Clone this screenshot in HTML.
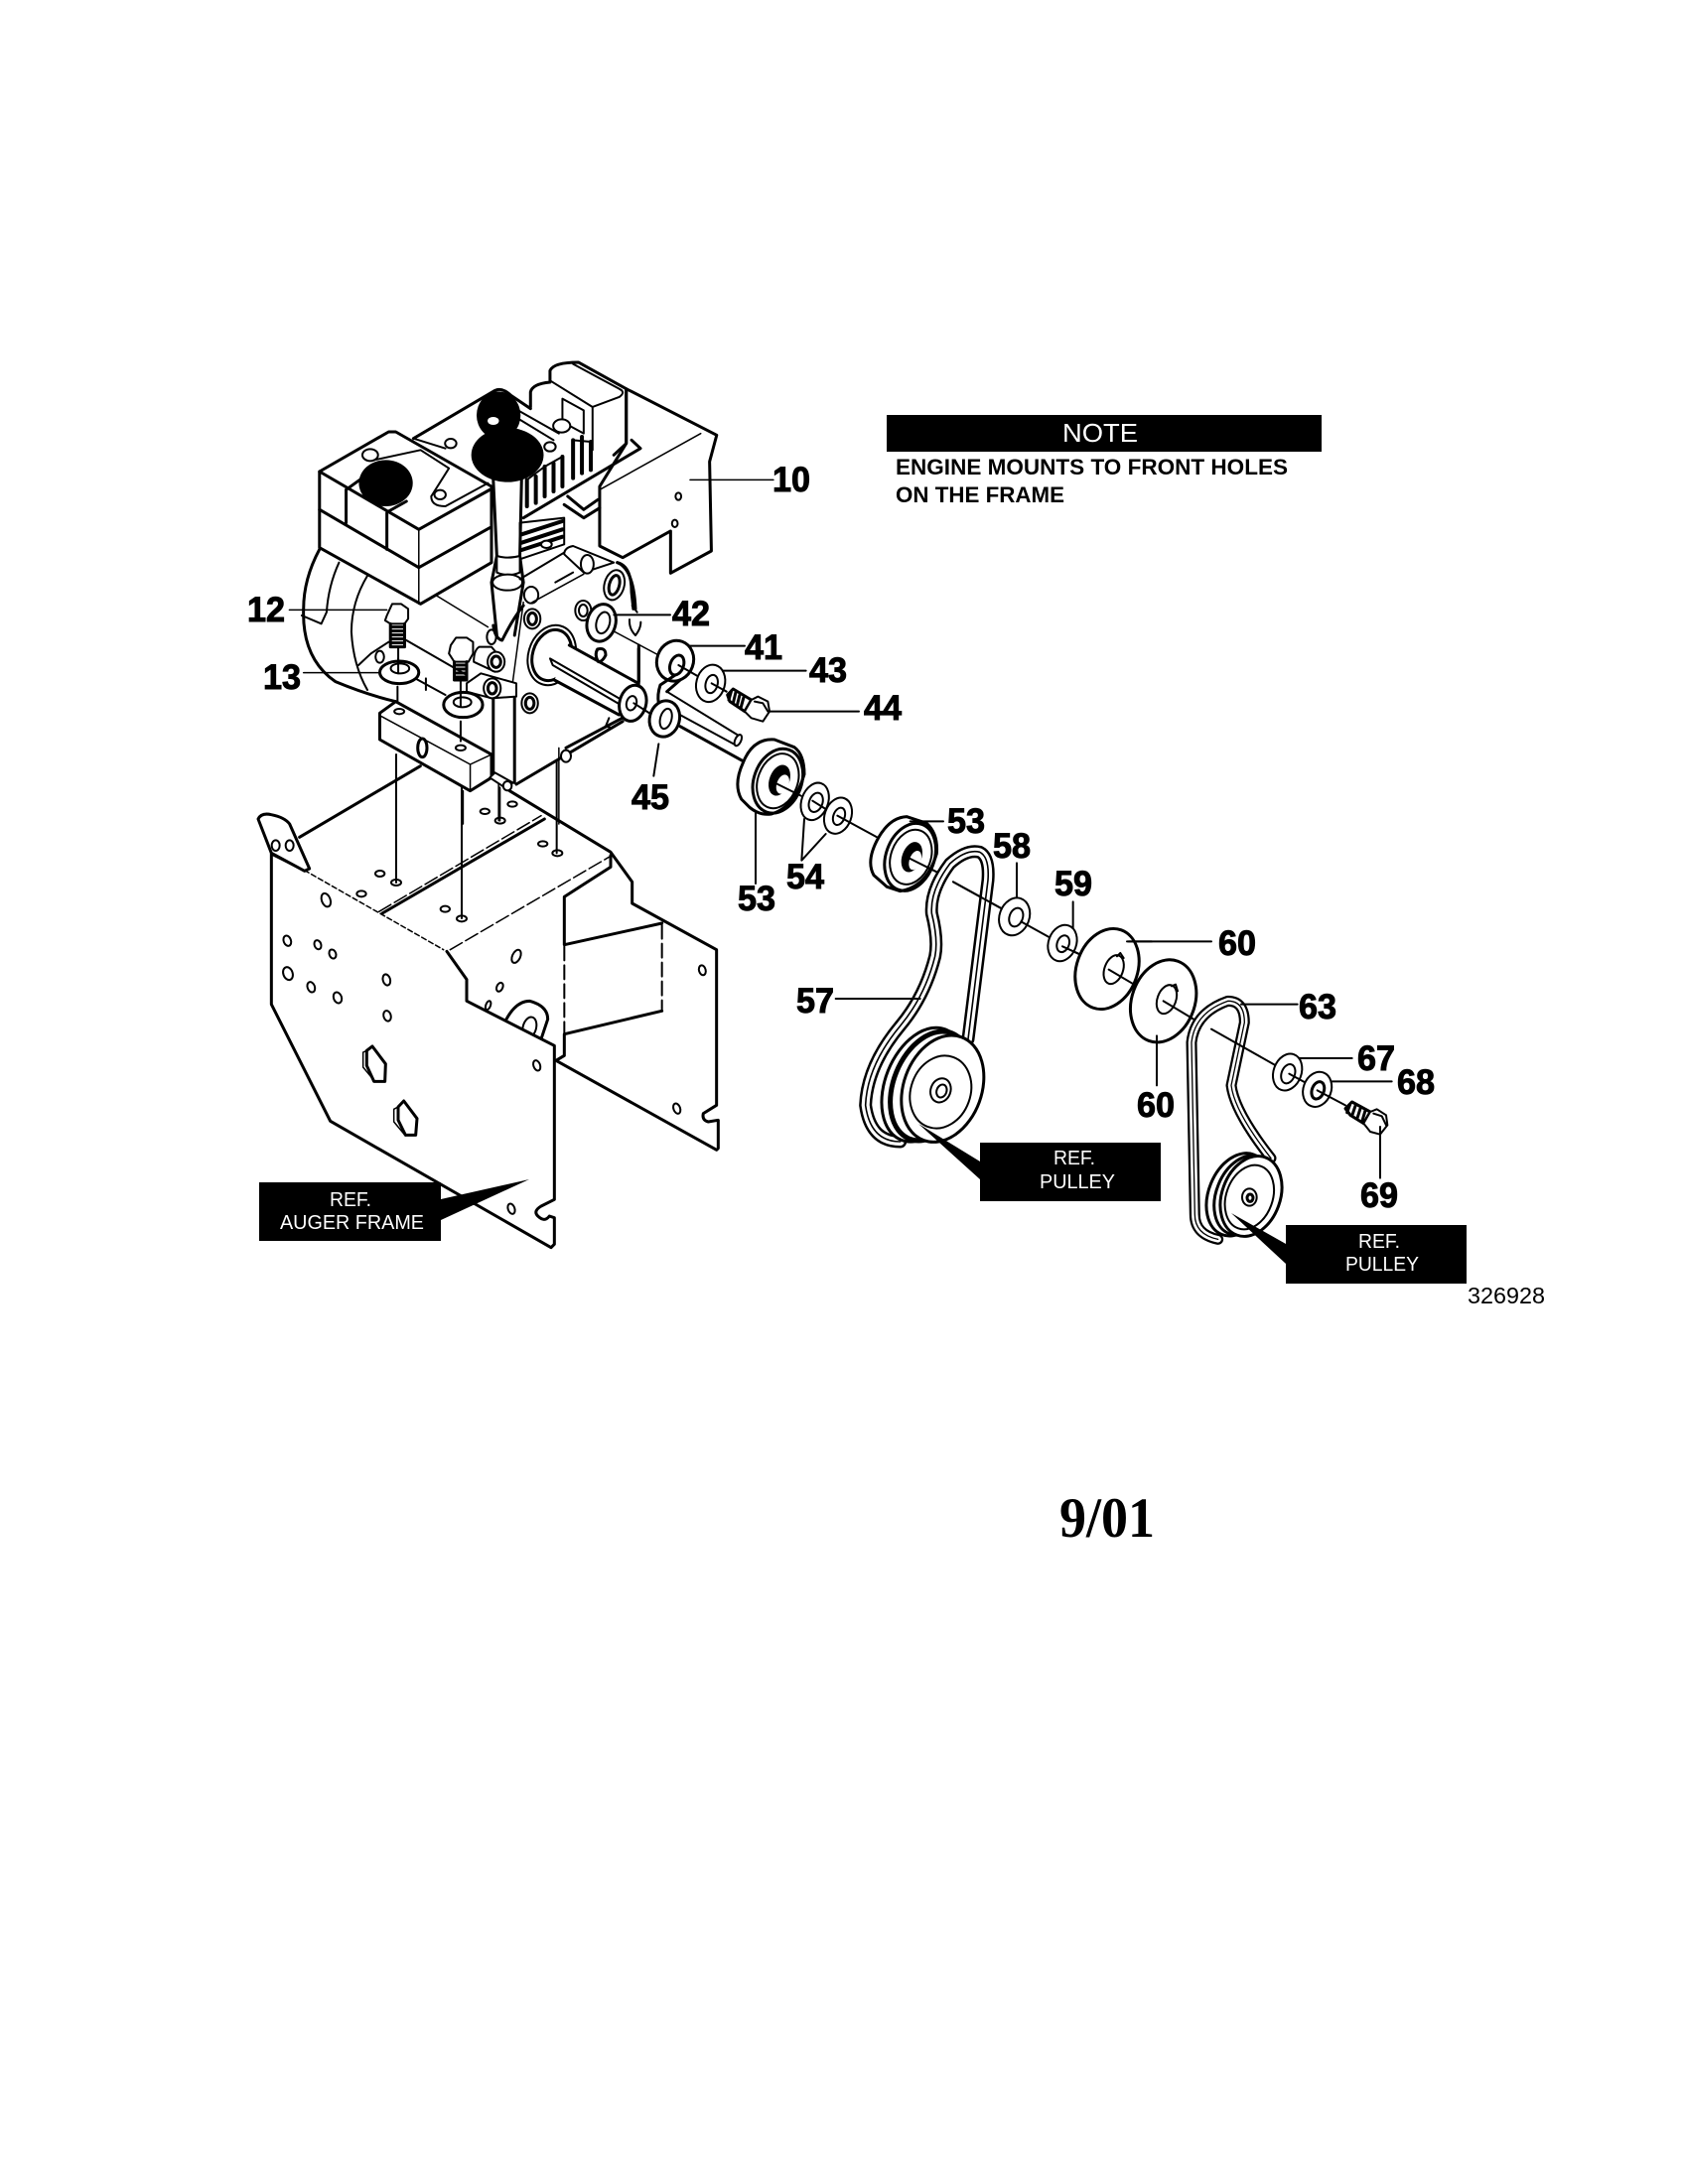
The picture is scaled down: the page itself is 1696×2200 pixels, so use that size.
<!DOCTYPE html>
<html><head><meta charset="utf-8"><style>
html,body{margin:0;padding:0;background:#fff}
svg{display:block}
svg *{vector-effect:non-scaling-stroke}
g.d{fill:none;stroke:#000;stroke-width:1.5;stroke-linejoin:round;stroke-linecap:round}
.h{stroke-width:3}.m{stroke-width:2}.f{stroke-width:4}.w{fill:#fff}.b{fill:#000}
.n{font:bold 35px "Liberation Sans",sans-serif;fill:#000;stroke:#000;stroke-width:1}
.r{font:20px "Liberation Sans",sans-serif;fill:#fff}
.e{font:bold 22px "Liberation Sans",sans-serif;fill:#000}
</style></head><body>
<svg width="1696" height="2200" viewBox="0 0 1696 2200" xmlns="http://www.w3.org/2000/svg">
<rect width="1696" height="2200" fill="#fff"/>

<!-- auger frame -->
<g class="d" transform="translate(220,760) scale(.33333)">
<path class="h" d="M245 250L610 35M880 110L1185 295L1250 385V450L1505 590V1060L1465 1085Q1460 1105 1480 1110L1510 1105V1190L1505 1195L1020 925L1045 910V845L1340 775M1340 510L1045 575V430L1185 340V305"/>
<path class="w h" d="M160 300V755L338 1108L1005 1490L1015 1480V1400L1000 1395Q985 1415 965 1395Q950 1380 975 1365L1015 1345V880L750 745V680L690 595L260 350Z" style="stroke:none"/>
<path class="h" d="M870 800Q900 745 940 745Q995 760 995 800L975 860"/>
<ellipse class="m" cx="940" cy="825" rx="20" ry="32" transform="rotate(15 940 825)"/>
<path class="w" d="M750 745L1015 880V1000H750Z" style="stroke:none"/>
<path class="h" d="M260 350L160 300V755L338 1108L1005 1490L1015 1480V1400L1000 1395Q985 1415 965 1395Q950 1380 975 1365L1015 1345V880L750 745V680L690 595"/>
<path d="M260 350L680 590" stroke-dasharray="5 3"/>
<path class="m" d="M1045 580V845M1340 515V770" stroke-dasharray="14 5"/>
<path class="h" d="M495 480L985 195"/>
<path d="M485 475L975 185M700 590L1180 310" stroke-dasharray="14 4"/>
<path class="h w" d="M160 298L120 195Q130 175 160 182Q200 190 215 210L275 345L260 352Z"/>
<ellipse class="m" cx="173" cy="275" rx="12" ry="16"/>
<ellipse class="m" cx="215" cy="275" rx="12" ry="16"/>
<path class="m" d="M537 0V387M735 100V495M850 100V200M1022 20V298"/>
<g class="m">
<ellipse cx="537" cy="387" rx="15" ry="9"/><ellipse cx="735" cy="496" rx="15" ry="9"/><ellipse cx="851" cy="200" rx="15" ry="9"/><ellipse cx="1024" cy="298" rx="15" ry="9"/>
<ellipse cx="488" cy="360" rx="14" ry="9"/><ellipse cx="432" cy="421" rx="14" ry="9"/><ellipse cx="685" cy="467" rx="14" ry="9"/><ellipse cx="805" cy="172" rx="14" ry="8"/><ellipse cx="888" cy="150" rx="14" ry="8"/><ellipse cx="980" cy="270" rx="14" ry="8"/>
<ellipse cx="325" cy="440" rx="13" ry="21" transform="rotate(-20 325 440)"/><ellipse cx="208" cy="563" rx="11" ry="16" transform="rotate(-20 208 563)"/><ellipse cx="300" cy="575" rx="10" ry="14" transform="rotate(-20 300 575)"/><ellipse cx="345" cy="603" rx="10" ry="14" transform="rotate(-20 345 603)"/><ellipse cx="210" cy="662" rx="14" ry="20" transform="rotate(-20 210 662)"/><ellipse cx="280" cy="703" rx="11" ry="16" transform="rotate(-20 280 703)"/><ellipse cx="360" cy="735" rx="12" ry="17" transform="rotate(-20 360 735)"/><ellipse cx="508" cy="681" rx="11" ry="17" transform="rotate(-15 508 681)"/><ellipse cx="510" cy="790" rx="11" ry="16" transform="rotate(-15 510 790)"/>
<ellipse cx="900" cy="610" rx="12" ry="21" transform="rotate(25 900 610)"/><ellipse cx="850" cy="703" rx="9" ry="14" transform="rotate(25 850 703)"/><ellipse cx="815" cy="758" rx="7" ry="14" transform="rotate(20 815 758)"/><ellipse cx="1462" cy="652" rx="10" ry="15" transform="rotate(-15 1462 652)"/><ellipse cx="962" cy="940" rx="10" ry="16" transform="rotate(-20 962 940)"/><ellipse cx="885" cy="1373" rx="10" ry="16" transform="rotate(-20 885 1373)"/><ellipse cx="1385" cy="1070" rx="10" ry="16" transform="rotate(-20 1385 1070)"/>
</g>
<path class="h" d="M448 895L465 882L505 935L503 988L470 988L448 940Z"/><path d="M448 895L437 900V945L470 985"/>
<path class="h" d="M543 1065L560 1047L600 1100L596 1150L565 1150L543 1105Z"/><path d="M543 1065L530 1072V1110L565 1152"/>
</g>

<!-- engine -->
<g class="d" transform="translate(220,330) scale(.35714,.33333)">
<path class="h w" d="M1150 185L1405 325L1385 405L1390 675L1275 742V615L1140 695L1075 660V480L1150 350Z"/>
<path d="M1360 320L1075 490M1330 460H1565"/>
<ellipse class="m" cx="1297" cy="510" rx="8" ry="11"/><ellipse class="m" cx="1287" cy="592" rx="8" ry="11"/>
<path class="h" d="M880 240V195Q885 170 935 165V130Q945 105 1015 105L1150 185V350L1115 385M550 335L780 190Q800 180 825 205L880 245"/>
<path class="m" d="M1000 110L1130 185Q1150 195 1130 210L1055 240V370M935 160L1055 240"/>
<path class="m" d="M970 215L1030 250V320L970 285Z"/>
<ellipse class="w m" cx="968" cy="297" rx="24" ry="20"/>
<path class="h" d="M1165 340L1190 365L860 575"/>
<path class="f" d="M870 460V540M895 450V530M920 420V510M945 410V495M970 390V480M1000 340V455M1025 330V440M1050 345V430"/>
<path class="m" d="M870 460L920 420M920 420L970 390M1000 340L1050 345M845 250L960 320M845 275L945 340"/>
<path class="m w" d="M850 590L975 575V655L850 700Z"/>
<path class="f" d="M855 625L970 585M855 650L970 610M855 672L970 632"/>
<ellipse class="w m" cx="925" cy="655" rx="15" ry="11"/>
<path class="h" d="M975 535L1030 575L1075 545M985 510L1030 550L1070 520"/>
<path class="m w" d="M975 685L1030 740L1115 710L1000 660Q975 665 975 685Z"/>
<ellipse class="m w" cx="1040" cy="715" rx="18" ry="28"/>
<path class="w h" d="M285 435L480 315H500L770 480V710L570 835L285 665Z"/>
<path class="h" d="M285 435L565 610L765 490M285 550L565 725L765 605"/><path d="M565 610V835M575 605L770 490M575 720L770 600"/>
<path class="h" d="M360 490V590M475 560V670M360 490L405 455M480 555L530 525"/>
<path class="m" d="M440 400L570 370L650 425L600 510Q600 540 640 540L760 470M550 335L640 365"/>
<ellipse class="w m" cx="428" cy="385" rx="22" ry="18"/><ellipse class="w m" cx="625" cy="505" rx="16" ry="14"/><ellipse class="w m" cx="655" cy="350" rx="16" ry="14"/>
<ellipse class="b" cx="472" cy="470" rx="76" ry="70" style="stroke:none"/>
<ellipse class="b" cx="790" cy="265" rx="62" ry="72" style="stroke:none"/><ellipse class="b" cx="815" cy="385" rx="102" ry="82" style="stroke:none"/>
<ellipse cx="775" cy="282" rx="16" ry="12" fill="#fff" style="stroke:none"/>
<ellipse class="w m" cx="935" cy="360" rx="16" ry="14"/>
<path class="w h" d="M775 460L785 690L770 770L785 930M855 450L850 690L860 770L835 930" style="fill:#fff"/>
<path class="w m" d="M785 690Q815 700 850 690V740Q815 755 785 740Z"/>
<ellipse class="w m" cx="815" cy="770" rx="42" ry="24"/>
<path class="m" d="M850 760L975 680M950 770L1000 740"/>
<ellipse class="w m" cx="882" cy="808" rx="20" ry="25"/>
<path d="M885 830L1030 745M615 810L760 905M530 945L700 1050"/>
<path class="h" d="M860 840Q830 880 800 945Q780 940 775 900M1125 710Q1165 720 1165 800L1170 850M1185 970V1085M775 1110V1350M835 1120V1375"/>
<path d="M860 830L830 1070"/>
<path class="h" d="M285 670Q240 760 240 850Q235 1000 330 1070Q420 1110 500 1130"/>
<path class="m" d="M340 710Q310 780 305 860M420 750Q375 830 375 920Q380 1020 420 1095M235 870L290 895L305 860"/>
<path class="m" d="M395 1020L430 985L480 950M555 1060L640 1110M585 1060V1095M530 945L700 1050"/>
<ellipse class="m" cx="455" cy="995" rx="12" ry="18"/>
<!-- base block -->
<path class="w h" d="M455 1165L500 1130L770 1290L770 1360L710 1400L455 1245Z"/>
<path d="M460 1175L710 1320L770 1290M710 1320V1400"/>
<ellipse class="h" cx="575" cy="1270" rx="13" ry="28"/>
<ellipse class="m" cx="510" cy="1160" rx="14" ry="8"/><ellipse class="m" cx="683" cy="1270" rx="14" ry="8"/>
<path class="h" d="M840 1380L1140 1190"/>
<path d="M960 1270V1500M690 1400V1500M790 1375V1490"/>
<ellipse class="m w" cx="980" cy="1295" rx="14" ry="18"/>
<path class="w m" d="M765 1360L780 1345L830 1375L815 1395Z"/><ellipse class="m w" cx="815" cy="1385" rx="12" ry="14"/>
<!-- gear casting bosses -->
<ellipse class="m" cx="885" cy="880" rx="23" ry="30"/><ellipse class="h" cx="885" cy="880" rx="12" ry="18"/>
<ellipse class="m" cx="878" cy="1135" rx="23" ry="30"/><ellipse class="h" cx="878" cy="1135" rx="12" ry="18"/>
<ellipse class="m" cx="940" cy="990" rx="66" ry="92" transform="rotate(15 940 990)"/><ellipse class="h" cx="940" cy="990" rx="54" ry="78" transform="rotate(15 940 990)"/>
<!-- couplers -->
<ellipse class="m" cx="770" cy="935" rx="13" ry="22"/>
<path class="w m" d="M735 965Q720 975 720 1010L780 1040L805 1010L770 965Z"/><ellipse class="m w" cx="783" cy="1010" rx="24" ry="30"/><ellipse class="h" cx="783" cy="1010" rx="13" ry="17"/>
<path class="w m" d="M740 1045L700 1075V1100L770 1120L840 1115V1075Z"/><ellipse class="m w" cx="772" cy="1090" rx="24" ry="30"/><ellipse class="h" cx="772" cy="1090" rx="12" ry="17"/>
<!-- bolts & washers -->
<path d="M200 853H475"/>
<path class="m w" d="M475 870L470 885L485 895H525L535 880V850L515 835H490Z"/>
<path class="h" d="M485 895V965H525V895M485 905H525M485 917H525M485 929H525M485 941H525M485 953H525"/>
<path class="m" d="M507 968V1045M505 1085V1130"/>
<path d="M240 1043H465"/>
<ellipse class="w h" cx="510" cy="1042" rx="55" ry="34"/><ellipse class="m" cx="512" cy="1030" rx="26" ry="15"/><path class="m" d="M507 1000V1045"/>
<path class="m w" d="M655 960L650 985L665 1010H705L718 985V950L700 937H670Z"/>
<path class="h" d="M665 1010V1065H700V1010M665 1020H700M665 1032H700M665 1044H700M665 1056H700"/>
<ellipse class="w h" cx="690" cy="1140" rx="55" ry="38"/><ellipse class="m" cx="688" cy="1132" rx="25" ry="15"/><path class="m" d="M683 1068V1145M683 1190V1250"/>
</g>

<!-- shafts, washers 41-45 -->
<g class="d" transform="translate(560,520) scale(.33333)">
<path class="w" d="M40 390L245 503L190 600L-5 495Z" style="stroke:none"/>
<path class="h" d="M250 390V500M40 390L245 503M-5 495L190 600"/>
<path class="m" d="M-18 430L207 560L195 570L-10 450Z"/>
<path class="h" d="M185 140Q235 160 240 280"/>
<ellipse class="m w" cx="176" cy="208" rx="30" ry="46" transform="rotate(15 176 208)"/><ellipse class="h" cx="176" cy="208" rx="15" ry="30" transform="rotate(15 176 208)"/>
<path class="m" d="M222 312Q220 340 240 360Q256 340 256 320M230 270L245 290"/>
<path class="h" d="M125 402Q150 395 150 420Q140 440 128 440Q115 420 125 402Z"/>
<ellipse class="m" cx="82" cy="285" rx="24" ry="30"/><ellipse class="m" cx="82" cy="285" rx="13" ry="18"/>
<path d="M160 340L310 420"/>
<ellipse class="w h" cx="137" cy="322" rx="43" ry="57" transform="rotate(15 137 322)"/><ellipse class="m" cx="142" cy="322" rx="20" ry="33" transform="rotate(15 142 322)"/>
<path class="m" d="M175 298H345M405 392H570M500 467H755M640 590H915M310 688L295 785"/>
<path class="m w" d="M375 495L335 530L555 665L540 690L310 565Q305 535 315 510L360 480" style="fill:none"/>
<ellipse class="m w" cx="550" cy="677" rx="9" ry="18" transform="rotate(25 550 677)"/>
<path class="h w" d="M375 635L565 740" style="fill:none"/>
<ellipse class="w h" cx="360" cy="437" rx="55" ry="62" transform="rotate(20 360 437)"/><ellipse class="h" cx="365" cy="450" rx="20" ry="31" transform="rotate(20 365 450)"/>
<path class="h" d="M360 480L315 510Q305 540 310 565M375 495L335 530"/>
<path class="m" d="M370 450L440 490M470 505L515 530"/>
<ellipse class="w m" cx="467" cy="505" rx="43" ry="57" transform="rotate(15 467 505)"/><ellipse class="m" cx="470" cy="507" rx="18" ry="28" transform="rotate(15 470 507)"/><path class="m" d="M470 505L515 530"/>
<path class="h" d="M518 540L535 522L590 555L570 590L525 560ZM530 527L522 555M543 532L535 565M555 540L547 572M567 547L558 580"/>
<path class="m w" d="M590 555L610 545L640 560L645 590L625 620L590 610L570 590Z"/><path class="m" d="M600 560L625 565L640 590"/>
<ellipse class="w h" cx="232" cy="565" rx="40" ry="55" transform="rotate(15 232 565)"/><ellipse class="m" cx="228" cy="565" rx="15" ry="22" transform="rotate(15 228 565)"/>
<path class="m" d="M235 565L290 600M160 610L150 635L170 640"/>
<path class="h" d="M30 700L200 610"/>
<ellipse class="w h" cx="328" cy="612" rx="45" ry="55" transform="rotate(15 328 612)"/><ellipse class="m" cx="332" cy="612" rx="17" ry="31" transform="rotate(15 332 612)"/>
</g>

<!-- pulleys / belt 57 -->
<g class="d" transform="translate(700,700) scale(.33333)">
<path class="h w" d="M145 205Q175 130 240 135L300 158Q330 180 330 240Q300 340 230 360Q195 365 165 340L140 315Q115 270 145 205Z"/>
<ellipse class="h" cx="250" cy="260" rx="72" ry="100" transform="rotate(20 250 260)"/><ellipse class="m" cx="250" cy="260" rx="60" ry="85" transform="rotate(20 250 260)"/>
<ellipse class="b" cx="255" cy="258" rx="28" ry="46" transform="rotate(20 255 258)"/><ellipse cx="265" cy="270" rx="18" ry="30" fill="#fff" stroke="none" transform="rotate(20 265 270)"/>
<path class="m" d="M183 355V570M240 265L320 305"/>
<ellipse class="w m" cx="362" cy="322" rx="40" ry="58" transform="rotate(20 362 322)"/><ellipse class="m" cx="365" cy="325" rx="20" ry="30" transform="rotate(20 365 325)"/>
<path class="m" d="M355 320L395 345"/>
<ellipse class="w m" cx="432" cy="365" rx="40" ry="56" transform="rotate(20 432 365)"/><ellipse class="m" cx="435" cy="367" rx="17" ry="27" transform="rotate(20 435 367)"/>
<path class="m" d="M430 365L550 430M330 375L322 500L395 420"/>
<path class="h w" d="M555 430Q590 370 640 368L700 388Q735 420 730 480Q700 580 620 593L580 580L540 545Q515 500 555 430Z"/>
<ellipse class="h" cx="650" cy="490" rx="73" ry="105" transform="rotate(20 650 490)"/><ellipse class="m" cx="652" cy="490" rx="60" ry="85" transform="rotate(20 652 490)"/>
<ellipse class="b" cx="655" cy="490" rx="27" ry="45" transform="rotate(20 655 490)"/><ellipse cx="665" cy="500" rx="17" ry="30" fill="#fff" stroke="none" transform="rotate(20 665 500)"/>
<path class="m" d="M650 382H750M650 495L730 535M780 565L925 645"/>
<path d="M620 1350Q530 1350 515 1240Q520 1120 620 1000Q695 910 725 790Q735 740 715 660Q710 590 770 510Q820 465 860 475Q890 490 885 560L825 1040" stroke="#000" stroke-width="13" fill="none"/>
<path d="M620 1350Q530 1350 515 1240Q520 1120 620 1000Q695 910 725 790Q735 740 715 660Q710 590 770 510Q820 465 860 475Q890 490 885 560L825 1040" stroke="#fff" stroke-width="8" fill="none"/>
<path d="M620 1350Q530 1350 515 1240Q520 1120 620 1000Q695 910 725 790Q735 740 715 660Q710 590 770 510Q820 465 860 475Q890 490 885 560L825 1040" stroke="#000" stroke-width="1.6" fill="none"/>
<path class="m" d="M780 565L925 645M425 918H680"/>
<ellipse class="w h" cx="690" cy="1178" rx="115" ry="180" transform="rotate(22 690 1178)"/>
<ellipse class="h" cx="712" cy="1182" rx="112" ry="172" transform="rotate(22 712 1182)" style="stroke-width:5"/>
<ellipse class="w h" cx="748" cy="1190" rx="118" ry="166" transform="rotate(20 748 1190)"/>
<ellipse class="m" cx="742" cy="1200" rx="90" ry="112" transform="rotate(20 742 1200)"/>
<ellipse class="m" cx="742" cy="1195" rx="30" ry="37" transform="rotate(20 742 1195)"/><ellipse class="m" cx="745" cy="1197" rx="15" ry="20" transform="rotate(20 745 1197)"/>
<ellipse class="w m" cx="965" cy="670" rx="45" ry="58" transform="rotate(20 965 670)"/><ellipse class="m" cx="970" cy="672" rx="20" ry="29" transform="rotate(20 970 672)"/>
<path class="m" d="M972 508V610M985 685L1075 735M1142 625V730M1110 760L1165 785"/>
<ellipse class="w m" cx="1110" cy="750" rx="42" ry="56" transform="rotate(20 1110 750)"/><ellipse class="m" cx="1112" cy="752" rx="18" ry="26" transform="rotate(20 1112 752)"/>
<path class="m" d="M1110 760L1165 785"/>
<ellipse class="w h" cx="1245" cy="828" rx="92" ry="125" transform="rotate(20 1245 828)"/>
<ellipse class="m" cx="1265" cy="830" rx="28" ry="45" transform="rotate(20 1265 830)"/>
<path class="m" d="M1305 745H1380M1250 830L1335 880M1275 790L1285 780L1295 795"/>
</g>

<!-- disc 60, belt 63 -->
<g class="d" transform="translate(1040,880) scale(.33333)">
<path class="m" d="M290 205H540"/>
<ellipse class="w h" cx="395" cy="385" rx="95" ry="128" transform="rotate(20 395 385)"/>
<ellipse class="m" cx="405" cy="380" rx="28" ry="45" transform="rotate(20 405 380)"/>
<path class="m" d="M395 385L495 445M375 490V640M420 340L432 335L438 355"/>
<path d="M560 1105Q490 1090 490 1030L480 510Q490 420 590 385Q640 385 640 450L600 640Q610 720 720 860" stroke="#000" stroke-width="11" fill="none"/>
<path d="M560 1105Q490 1090 490 1030L480 510Q490 420 590 385Q640 385 640 450L600 640Q610 720 720 860" stroke="#fff" stroke-width="6.5" fill="none"/>
<path d="M560 1105Q490 1090 490 1030L480 510Q490 420 590 385Q640 385 640 450L600 640Q610 720 720 860" stroke="#000" stroke-width="1.3" fill="none"/>
<path class="m" d="M630 395H800M540 470L735 580M795 558H965M905 628H1085"/>
<ellipse class="w h" cx="620" cy="970" rx="88" ry="130" transform="rotate(22 620 970)"/>
<ellipse class="h" cx="640" cy="972" rx="85" ry="125" transform="rotate(22 640 972)"/>
<ellipse class="w h" cx="660" cy="975" rx="88" ry="125" transform="rotate(20 660 975)"/>
<ellipse class="m" cx="655" cy="978" rx="70" ry="100" transform="rotate(20 655 978)"/>
<ellipse class="m" cx="655" cy="978" rx="22" ry="26"/><ellipse class="h" cx="657" cy="980" rx="9" ry="11"/>
<ellipse class="w m" cx="770" cy="600" rx="42" ry="57" transform="rotate(20 770 600)"/><ellipse class="m" cx="772" cy="605" rx="20" ry="30" transform="rotate(20 772 605)"/>
<path class="m" d="M775 605L830 635"/>
<ellipse class="w m" cx="860" cy="652" rx="42" ry="54" transform="rotate(20 860 652)"/><ellipse class="h" cx="862" cy="655" rx="18" ry="27" transform="rotate(20 862 655)"/>
<path class="m" d="M860 655L945 700"/>
<path class="h" d="M945 710L965 690L1020 720L1000 755L960 730ZM960 695L950 722M975 702L965 732M990 710L980 742M1005 716L995 750"/>
<path class="m w" d="M1020 720L1040 712L1068 730L1072 760L1050 788L1020 780L1000 755Z"/><path class="m" d="M1030 725L1055 733L1068 760M1050 765V920"/>
</g>

<!-- REF boxes -->
<rect x="893" y="418" width="438" height="37" fill="#000"/>
<polygon points="261,1191 444,1191 444,1250 261,1250" fill="#000"/>
<polygon points="444,1208 533,1188 444,1229" fill="#000"/>
<rect x="987" y="1151" width="182" height="59" fill="#000"/>
<polygon points="987,1170 925,1132 987,1188" fill="#000"/>
<rect x="1295" y="1234" width="182" height="59" fill="#000"/>
<polygon points="1295,1253 1240,1222 1295,1273" fill="#000"/>

<text x="1070" y="445" font-family="Liberation Sans" font-size="26" fill="#fff" textLength="76" lengthAdjust="spacingAndGlyphs">NOTE</text>
<text class="e" x="902" y="478" textLength="395" lengthAdjust="spacingAndGlyphs">ENGINE MOUNTS TO FRONT HOLES</text>
<text class="e" x="902" y="506" textLength="170" lengthAdjust="spacingAndGlyphs">ON THE FRAME</text>
<text class="r" x="332" y="1215" textLength="42" lengthAdjust="spacingAndGlyphs">REF.</text>
<text class="r" x="282" y="1238" textLength="145" lengthAdjust="spacingAndGlyphs">AUGER FRAME</text>
<text class="r" x="1061" y="1173" textLength="42" lengthAdjust="spacingAndGlyphs">REF.</text>
<text class="r" x="1047" y="1197" textLength="76" lengthAdjust="spacingAndGlyphs">PULLEY</text>
<text class="r" x="1368" y="1257" textLength="42" lengthAdjust="spacingAndGlyphs">REF.</text>
<text class="r" x="1355" y="1280" textLength="74" lengthAdjust="spacingAndGlyphs">PULLEY</text>
<text x="1478" y="1313" font-family="Liberation Sans" font-size="23" fill="#000" textLength="78" lengthAdjust="spacingAndGlyphs">326928</text>
<text x="1067" y="1548" font-family="Liberation Serif" font-weight="bold" font-size="57" fill="#000" textLength="96" lengthAdjust="spacingAndGlyphs">9/01</text>

<g>
<text class="n" x="778" y="495" textLength="38" lengthAdjust="spacingAndGlyphs">10</text>
<text class="n" x="249" y="626" textLength="38" lengthAdjust="spacingAndGlyphs">12</text>
<text class="n" x="265" y="694" textLength="38" lengthAdjust="spacingAndGlyphs">13</text>
<text class="n" x="677" y="630" textLength="38" lengthAdjust="spacingAndGlyphs">42</text>
<text class="n" x="750" y="664" textLength="38" lengthAdjust="spacingAndGlyphs">41</text>
<text class="n" x="815" y="687" textLength="38" lengthAdjust="spacingAndGlyphs">43</text>
<text class="n" x="870" y="725" textLength="38" lengthAdjust="spacingAndGlyphs">44</text>
<text class="n" x="636" y="815" textLength="38" lengthAdjust="spacingAndGlyphs">45</text>
<text class="n" x="743" y="917" textLength="38" lengthAdjust="spacingAndGlyphs">53</text>
<text class="n" x="792" y="895" textLength="38" lengthAdjust="spacingAndGlyphs">54</text>
<text class="n" x="954" y="839" textLength="38" lengthAdjust="spacingAndGlyphs">53</text>
<text class="n" x="1000" y="864" textLength="38" lengthAdjust="spacingAndGlyphs">58</text>
<text class="n" x="1062" y="902" textLength="38" lengthAdjust="spacingAndGlyphs">59</text>
<text class="n" x="802" y="1020" textLength="38" lengthAdjust="spacingAndGlyphs">57</text>
<text class="n" x="1227" y="962" textLength="38" lengthAdjust="spacingAndGlyphs">60</text>
<text class="n" x="1145" y="1125" textLength="38" lengthAdjust="spacingAndGlyphs">60</text>
<text class="n" x="1308" y="1026" textLength="38" lengthAdjust="spacingAndGlyphs">63</text>
<text class="n" x="1367" y="1078" textLength="38" lengthAdjust="spacingAndGlyphs">67</text>
<text class="n" x="1407" y="1102" textLength="38" lengthAdjust="spacingAndGlyphs">68</text>
<text class="n" x="1370" y="1216" textLength="38" lengthAdjust="spacingAndGlyphs">69</text>
</g>
</svg>
</body></html>
